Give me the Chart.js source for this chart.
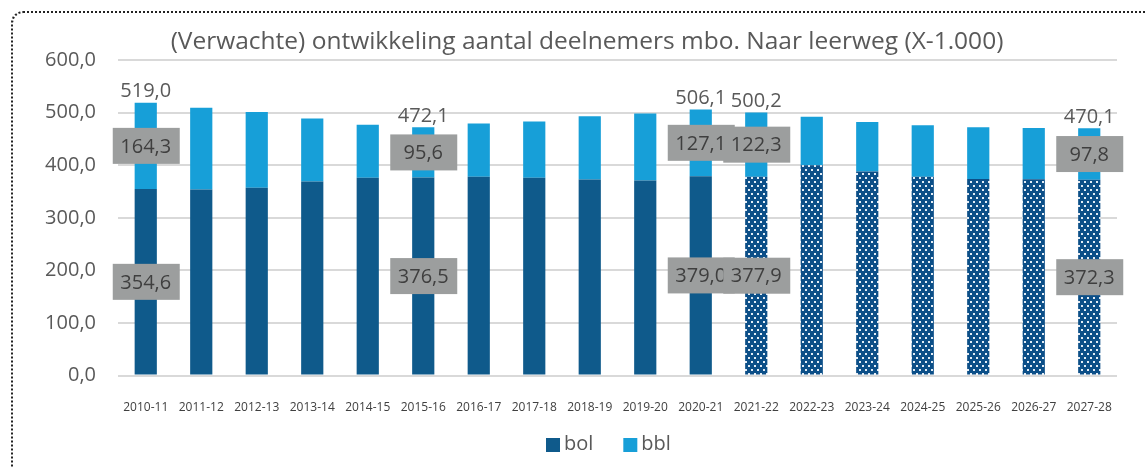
<!DOCTYPE html>
<html>
<head>
<meta charset="utf-8">
<script src="https://cdn.jsdelivr.net/npm/chart.js@4"></script>
<style>
  html, body { margin: 0; padding: 0; background: #fff; overflow: hidden; }
  #frame {
    position: absolute; left: 11px; top: 11px; width: 1160px; height: 480px;
    border: 2px dotted #222; border-radius: 12px; box-sizing: border-box;
  }
  #wrap { position: absolute; left: 0; top: 0; width: 1147px; height: 468px; }
</style>
</head>
<body>
<div id="frame"></div>
<div id="wrap"><canvas id="chart" width="1147" height="468"></canvas></div>
<script>
const years = ['2010-11', '2011-12', '2012-13', '2013-14', '2014-15', '2015-16', '2016-17', '2017-18', '2018-19',
    '2019-20', '2020-21', '2021-22', '2022-23', '2023-24', '2024-25', '2025-26', '2026-27', '2027-28'];
const bol = [354.6, 354.0, 357.0, 369.0, 376.0, 376.5, 378.0, 376.0, 373.0, 371.0, 379.0, 377.9, 400.0, 388.0, 378.0, 374.0, 373.5, 372.3];
const bbl = [164.3, 155.0, 144.0, 120.0, 101.0, 95.6, 101.5, 107.0, 120.0, 127.5, 127.1, 122.3, 92.0, 94.0, 98.0, 98.0, 97.0, 97.8];
const labelled = [0, 5, 10, 11, 17];           // bars that carry data labels
const totals = [519.0, 472.1, 506.1, 500.2, 470.1]; // printed totals for those bars
const firstForecast = 11;                     // 2021-22 and later are forecasts (dotted)
const yTicks = [0, 100, 200, 300, 400, 500, 600];
const title = '(Verwachte) ontwikkeling aantal deelnemers mbo. Naar leerweg (X-1.000)';

const DARK = '#0f5a8b';
const LIGHT = '#179fd8';

function fmt(v) {
    return v.toFixed(1).replace('.', ',');
}

function dotPattern() {
    const c = document.createElement('canvas');
    c.width = 6; c.height = 8;
    const g = c.getContext('2d');
    g.fillStyle = '#0c4f88';
    g.fillRect(0, 0, 6, 8);
    g.fillStyle = '#e4edf6';
    g.fillRect(1, 1, 2, 2);
    g.fillRect(4, 5, 2, 2);
    return g.createPattern(c, 'repeat');
}

const ctx = document.getElementById('chart').getContext('2d');
const pattern = dotPattern();
const bolColors = years.map((y, i) => i >= firstForecast ? pattern : DARK);

// labels, title and legend drawn by hand
const labelPlugin = {
    id: 'barLabels',
    afterDatasetsDraw(chart) {
        const c = chart.ctx;
        c.save();
        c.textAlign = 'center';
        c.textBaseline = 'middle';
        c.font = "20px 'Open Sans'";
        chart.data.datasets.forEach((ds, di) => {
            const meta = chart.getDatasetMeta(di);
            labelled.forEach(i => {
                const el = meta.data[i];
                const cy = (el.y + el.base) / 2;
                c.fillStyle = '#9c9e9e';
                c.fillRect(el.x - 33, cy - 18, 67, 36);
                c.fillStyle = '#3f3f3f';
                c.fillText(fmt(ds.data[i]), el.x, cy + 1);
            });
        });
        const top = chart.getDatasetMeta(1);
        c.fillStyle = '#595959';
        labelled.forEach((i, k) => {
            const el = top.data[i];
            c.fillText(fmt(totals[k]), el.x, el.y - 11);
        });

        // title
        c.font = "24.5px 'Open Sans'";
        c.fillText(title, 587, 42);

        // legend
        c.font = "20px 'Open Sans'";
        c.textAlign = 'left';
        let x = 546;
        chart.data.datasets.forEach(ds => {
            c.fillStyle = ds.label === 'bol' ? DARK : LIGHT;
            c.fillRect(x, 438, 14, 14);
            c.fillStyle = '#595959';
            c.fillText(ds.label, x + 18, 444);
            x += 18 + c.measureText(ds.label).width + 30;
        });
        c.restore();
    }
};

Chart.defaults.font.family = "'Open Sans'";
Chart.defaults.color = '#595959';

new Chart(ctx, {
    type: 'bar',
    data: {
        labels: years,
        datasets: [
            {
                label: 'bol',
                data: bol,
                backgroundColor: bolColors,
                categoryPercentage: 0.8,
                barPercentage: 0.5
            },
            {
                label: 'bbl',
                data: bbl,
                backgroundColor: LIGHT,
                categoryPercentage: 0.8,
                barPercentage: 0.5
            }
        ]
    },
    options: {
        responsive: false,
        animation: false,
        layout: { padding: { left: 0, right: 30, top: 60, bottom: 36 } },
        scales: {
            x: {
                stacked: true,
                grid: { display: false },
                border: { display: false },
                ticks: { color: '#404040', font: { size: 12 }, padding: 17, maxRotation: 0, autoSkip: false }
            },
            y: {
                stacked: true,
                min: 0,
                max: 600,
                afterBuildTicks: s => { s.ticks = yTicks.map(v => ({ value: v })); },
                afterFit: s => { s.width = 118; },
                grid: { color: '#d9d9d9', lineWidth: 2, drawTicks: false },
                border: { display: false },
                ticks: { color: '#595959', font: { size: 20 }, padding: 22, callback: v => fmt(v) }
            }
        },
        plugins: {
            title: { display: false },
            legend: { display: false },
            tooltip: { enabled: false }
        }
    },
    plugins: [labelPlugin]
});
</script>
</body>
</html>
